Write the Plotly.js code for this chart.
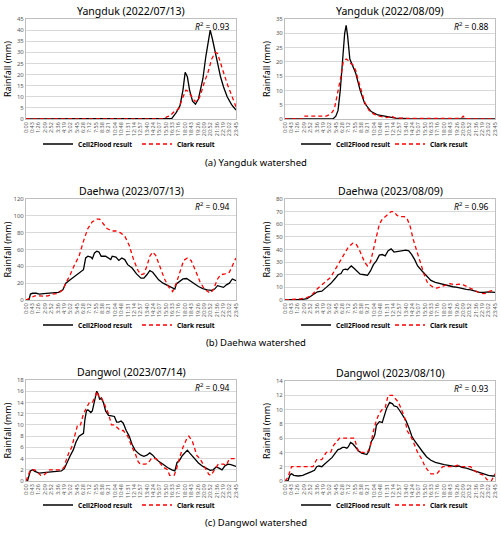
<!DOCTYPE html>
<html><head><meta charset="utf-8">
<script src="https://cdn.plot.ly/plotly-3.0.1.min.js"></script>
<style>html,body{margin:0;padding:0;background:#fff}#chart{width:501px;height:536px}</style>
</head><body><div id="chart"></div>
<script>
// ---------- tick labels ----------
const tickLabels = ["0:00","0:43","1:26","2:09","2:52","3:36","4:19","5:02","5:45","6:28","7:12","7:55","8:38","9:21","10:04","10:48","11:31","12:14","12:57","13:40","14:24","15:07","15:50","16:33","17:16","18:00","18:43","19:26","20:09","20:52","21:36","22:19","23:02","23:45"];

// ---------- (a) Yangduk 2022/07/13 ----------
const yj_cellTime = ["0:00","16:00","16:30","17:00","17:25","17:45","18:00","18:15","18:30","18:50","19:10","19:30","20:00","20:20","20:40","20:50","21:05","21:20","21:40","22:00","22:20","22:45","23:15","23:45"];
const yj_cellRain = [0,0,0.3,3,6,13,21,19,13,8,6.7,9,18,28,37,40,36,31,25,19,14.5,10,6.5,4];
const yj_clarkTime = ["0:00","15:40","15:55","16:20","16:40","17:15","17:40","18:05","18:20","18:45","19:05","19:25","19:45","20:10","20:35","21:00","21:25","21:40","22:00","22:25","22:50","23:20","23:45"];
const yj_clarkRain = [0,0,1,1.5,3,4.5,9,13,12.5,10,8,8,11,16.5,21,27,30,29.5,25,20,15,10,5.5];

// ---------- (a) Yangduk 2022/08/09 ----------
const ya_cellTime = ["0:00","5:25","5:45","6:00","6:15","6:30","6:45","6:55","7:05","7:20","7:40","8:00","8:15","8:30","9:00","9:45","10:30","11:30","12:30","14:00","23:45"];
const ya_cellRain = [0,0,1,3,10,22,30,32.8,29,21,18.3,16,13,10,5.5,2.6,1.4,0.8,0.3,0.1,0];
const ya_clarkTime = ["0:00","2:00","2:10","4:40","5:00","5:15","5:35","5:50","6:05","6:20","6:35","6:55","7:10","7:25","7:40","8:00","8:15","8:35","9:00","9:30","10:00","10:40","11:30","12:05","12:20","12:50","14:00","19:55","20:09","20:25","23:45"];
const ya_clarkRain = [0,0,1,1,1.5,2,3.5,7,11,15,20,21,20.5,19.5,19,17,14,10,6,3,1.8,1,0.5,1,0.5,0.3,0.2,0.2,1,0.1,0];

// ---------- (b) Daehwa 2023/07/13 ----------
const dj_cellTime = ["0:00","0:20","0:30","0:45","1:10","1:30","2:00","3:00","3:40","4:10","4:30","5:00","5:30","6:00","6:30","6:45","7:00","7:20","7:30","7:45","8:00","8:15","8:30","9:00","9:20","9:35","9:45","10:10","10:30","10:50","11:10","11:30","12:00","12:30","13:00","13:20","13:40","14:00","14:20","14:40","15:00","15:30","16:00","16:30","16:50","17:00","17:20","17:45","18:10","18:30","19:00","19:30","20:00","20:30","21:00","21:20","21:40","22:00","22:20","22:40","23:00","23:20","23:45"];
const dj_cellRain = [0,0,7,8,8,7,7.5,8,9,12,20,24,28,32,36,50,52,51,49,56,58,57,52,52,50,48,52,51,47,50,48,42,38,31,26,26,30,35,33,28,24,20,17,14,13,19,22,25,25.5,23,19,16,13.5,12,11.5,13,17,16,15,18,20,25,23];
const dj_clarkTime = ["0:00","0:30","1:00","1:30","2:00","2:30","3:00","3:40","4:10","4:30","5:00","5:30","6:00","6:30","7:00","7:30","8:00","8:20","8:45","9:10","9:40","10:10","10:40","11:10","11:40","12:10","12:40","13:00","13:20","13:40","14:00","14:20","14:40","15:10","15:40","16:10","16:35","17:00","17:30","17:50","18:15","18:40","19:10","19:40","20:10","20:50","21:10","21:40","22:00","22:30","23:00","23:20","23:45"];
const dj_clarkRain = [0,3,5,5,4.5,5,7,8,12,20,30,42,52,70,85,93,96,96,90,85,82,82,80,76,65,48,35,30,31,40,52,57,53,40,25,15,10,20,35,47,50,47,35,22,13,8,12,25,30,31,33,40,50];

// ---------- (b) Daehwa 2023/08/09 ----------
const da_cellTime = ["0:00","1:00","1:30","2:00","2:30","3:00","3:20","3:40","4:10","4:40","5:10","5:40","6:00","6:20","6:35","6:50","7:05","7:20","7:30","7:50","8:10","8:30","9:00","9:20","9:40","10:00","10:20","10:40","11:00","11:20","11:40","12:00","12:20","12:40","13:00","13:20","13:40","14:00","14:20","14:40","15:00","15:30","16:00","16:30","17:00","17:30","18:00","18:30","19:00","19:30","20:00","20:30","21:00","21:30","22:00","22:30","23:00","23:45"];
const da_cellRain = [0,0,0.3,0.5,1,3,5,6.5,7,10,13,17,20,21,24,24.5,24,26,27,25,23,20.5,20,19.5,23,28,31,35.5,36,35,39,40.5,38,38.5,38.5,39,39.5,39,36,32,27,23,19,15.5,14,13,12.5,11.5,10.5,10,9,8.5,8,7,6,6,6.5,6];
const da_clarkTime = ["0:00","1:20","1:50","2:20","2:50","3:10","3:40","4:10","4:40","5:10","5:40","6:10","6:40","7:10","7:40","8:00","8:20","8:40","9:00","9:20","9:40","10:00","10:20","10:40","11:00","11:30","12:00","12:20","12:40","13:00","13:30","13:50","14:10","14:30","14:50","15:10","15:30","15:50","16:10","16:40","17:10","17:40","18:10","18:40","19:10","19:40","20:10","20:40","21:00","21:30","22:00","22:30","22:50","23:10","23:45"];
const da_clarkRain = [0,0.3,1,1.5,3,5,9,12,15,18,24,30,37,42,45,44.5,41,35,30,27,30,40,50,60,64,67,70,70,67,66,66,64,58,48,40,32,25,18,13,10.5,9.5,10.5,12,13,12,12.5,12,10.5,9,7.5,5.5,5,5.5,7,8];

// ---------- (c) Dangwol 2023/07/14 ----------
const gj_cellTime = ["0:00","0:10","0:30","0:45","1:00","1:30","2:00","2:30","3:00","3:30","4:00","4:20","4:40","5:00","5:20","5:40","6:00","6:15","6:30","6:40","6:50","7:00","7:20","7:30","7:45","8:00","8:10","8:20","8:30","8:45","9:00","9:20","9:40","10:00","10:15","10:30","10:45","11:00","11:20","11:40","12:00","12:20","12:40","13:00","13:20","13:40","14:00","14:20","14:40","15:00","15:30","16:00","16:30","16:50","17:05","17:20","17:40","18:00","18:15","18:30","19:00","19:30","20:00","20:30","20:50","21:10","21:30","21:50","22:10","22:30","22:50","23:10","23:30","23:45"];
const gj_cellRain = [0,0,1.8,2,1.7,1.4,1.5,1.6,1.6,1.7,1.8,2.2,3.5,4.5,5.5,7,8,8.3,8.5,11,12.5,12.7,12.2,12.5,14.5,16,15.5,14.5,14.8,14,12.5,11.7,11.6,11.5,10.5,10.5,10.7,10.3,9,8,6.5,5.5,5,4.6,4.4,4.6,5,4.6,4,3.5,3,2.4,2,1.8,3.3,3.6,4.5,5,5.5,5,4,3.2,2.6,2.1,1.9,2,2.5,2.3,2,2.7,3,2.9,2.8,2.6];
const gj_clarkTime = ["0:00","0:20","0:30","1:00","1:20","1:40","2:00","2:20","2:40","4:00","4:20","4:30","4:50","5:10","5:30","5:50","6:10","6:30","6:50","7:10","7:30","7:50","8:00","8:15","8:30","8:45","9:00","9:20","9:40","10:00","10:20","10:40","11:00","11:30","12:00","12:20","12:40","12:55","13:30","13:50","14:10","14:40","15:00","15:30","16:00","16:15","16:45","17:00","17:20","17:45","18:10","18:25","18:50","19:20","19:40","20:00","20:20","20:40","20:55","21:20","21:45","22:20","22:40","23:00","23:20","23:45"];
const gj_clarkRain = [0,1.5,2,2,1.5,1,1,1.5,2,2,2.5,3.5,5,6,8,10,10,12,13,14,14,15,16,15,15,14,13,12,10,10,9.5,9,9,8,6,5,3.5,3,3,3.2,4,4,3.5,2.5,2,1,1,2,4,6,7.5,8,7,4.5,4,3,2,1.2,1,2,3,3,2.8,4,4,4];

// ---------- (c) Dangwol 2023/08/10 ----------
const ga_cellTime = ["0:00","0:20","0:35","0:45","1:00","1:30","2:00","2:30","3:00","3:20","3:35","3:50","4:10","4:20","4:50","5:20","5:45","6:00","6:15","6:30","6:45","7:00","7:10","7:25","7:40","8:00","8:20","8:40","9:00","9:15","9:30","9:45","10:00","10:10","10:20","10:40","11:00","11:10","11:30","11:50","12:10","12:20","12:40","13:00","13:20","13:40","14:00","14:20","14:40","15:00","15:30","16:00","16:30","17:00","17:30","18:00","18:30","19:00","19:20","19:40","20:00","20:30","21:00","21:30","22:00","22:30","23:00","23:30","23:45"];
const ga_cellRain = [0,0,0.9,1,0.8,0.7,0.8,1,1.3,1.5,2,2.1,2,2.2,2.7,3.3,4,4.4,4.5,4.7,4.7,4.6,4.8,5.4,5.2,4.7,4.2,3.9,3.8,3.7,4.2,5.5,6,6.5,7.8,8.3,8.2,9,10.2,11,10.8,10.5,10.4,9.8,9.2,8.5,7.5,6.3,5.6,5,4.2,3.4,2.9,2.6,2.4,2.3,2.2,2.1,2,2.1,1.9,1.8,1.6,1.3,1.1,1,0.8,0.7,0.7];
const ga_clarkTime = ["0:00","0:20","0:35","0:45","3:10","3:25","3:35","4:10","4:25","4:40","5:10","5:30","5:50","6:10","7:50","8:05","8:20","9:20","9:40","10:00","10:20","10:40","11:00","11:20","11:40","12:10","12:30","12:50","13:10","13:30","13:50","14:20","14:40","15:00","15:30","15:50","16:10","16:30","17:10","17:30","17:50","19:00","19:30","20:00","21:00","21:20","21:40","22:00","22:30","22:50","23:20","23:45"];
const ga_clarkRain = [0,0.5,1.5,2,2,2.5,3,3,3.5,4,4,5,5.5,6,6,5,4,4,5,7,8.5,9.5,10,10.3,12,12,11.5,11,10,9,7,6,5,4,3,2,1.5,1,1,1.5,2,2,2.2,2,2,1.5,1.2,1,0.8,0.2,0,1];

// ---------- layout helpers ----------
const W = 501, H = 536;
const FONT = "Noto Sans, Open Sans, sans-serif";
function toMin(s){ const p = s.split(":"); return Number(p[0])*60 + Number(p[1]); }
const tickVals = tickLabels.map(toMin);

const panels = [
  {title:"Yangduk (2022/07/13)", r2:"0.93", ymax:45, dtick:5,  box:[26,236,19,119], cell:[yj_cellTime,yj_cellRain], clark:[yj_clarkTime,yj_clarkRain], legY:144, legX:[38,137]},
  {title:"Yangduk (2022/08/09)", r2:"0.88", ymax:35, dtick:5,  box:[285,495,19,119], cell:[ya_cellTime,ya_cellRain], clark:[ya_clarkTime,ya_clarkRain], legY:144, legX:[296,390]},
  {title:"Daehwa (2023/07/13)",  r2:"0.94", ymax:120, dtick:20, box:[26,236,199,300], cell:[dj_cellTime,dj_cellRain], clark:[dj_clarkTime,dj_clarkRain], legY:325, legX:[38,137]},
  {title:"Daehwa (2023/08/09)",  r2:"0.96", ymax:80, dtick:10, box:[285,495,199,300], cell:[da_cellTime,da_cellRain], clark:[da_clarkTime,da_clarkRain], legY:325, legX:[296,390]},
  {title:"Dangwol (2023/07/14)", r2:"0.94", ymax:18, dtick:2,  box:[26,236,380,481], cell:[gj_cellTime,gj_cellRain], clark:[gj_clarkTime,gj_clarkRain], legY:505, legX:[38,137]},
  {title:"Dangwol (2023/08/10)", r2:"0.93", ymax:14, dtick:2,  box:[285,495,381,481], cell:[ga_cellTime,ga_cellRain], clark:[ga_clarkTime,ga_clarkRain], legY:505, legX:[296,390]}
];
const captions = [["(a) Yangduk watershed",162],["(b) Daehwa watershed",342],["(c) Dangwol watershed",522]];

const traces = [];
const layout = {
  width: W, height: H,
  margin: {l:0, r:0, t:0, b:0},
  paper_bgcolor: "#ffffff", plot_bgcolor: "#ffffff",
  font: {family: FONT, color: "#000"},
  annotations: [], showlegend: true
};

panels.forEach((p, i) => {
  const n = i + 1;
  const sx = n === 1 ? "" : String(n);
  const [x0, x1, y0, y1] = p.box;
  layout["xaxis" + sx] = {
    domain: [x0 / W, x1 / W], anchor: "y" + sx,
    range: [0, tickVals[tickVals.length - 1]],
    tickmode: "array", tickvals: tickVals, ticktext: tickLabels,
    tickangle: -90, tickfont: {size: 5.5, color: "#595959", family: FONT},
    showgrid: false, zeroline: false,
    showline: true, linecolor: "#bfbfbf", linewidth: 1, mirror: true,
    ticks: "", fixedrange: true
  };
  layout["yaxis" + sx] = {
    domain: [1 - y1 / H, 1 - y0 / H], anchor: "x" + sx,
    range: [0, p.ymax], dtick: p.dtick, tick0: 0,
    tickfont: {size: 6, color: "#595959", family: FONT},
    showgrid: true, gridcolor: "#d9d9d9", gridwidth: 1, zeroline: false,
    showline: true, linecolor: "#bfbfbf", linewidth: 1, mirror: true,
    ticks: "", ticklen: 0, fixedrange: true
  };
  const l1 = "legend" + (2*n - 1 === 1 ? "" : String(2*n - 1));
  const l2 = "legend" + String(2*n);
  traces.push({
    x: p.cell[0].map(toMin), y: p.cell[1], xaxis: "x" + sx, yaxis: "y" + sx,
    type: "scatter", mode: "lines", name: "Cell2Flood result", legend: l1,
    line: {color: "#000000", width: 1.3}, hoverinfo: "skip"
  });
  traces.push({
    x: p.clark[0].map(toMin), y: p.clark[1], xaxis: "x" + sx, yaxis: "y" + sx,
    type: "scatter", mode: "lines", name: "Clark result", legend: l2,
    line: {color: "#ff0000", width: 1.3, dash: "4px,3px"}, hoverinfo: "skip"
  });
  [[l1, p.legX[0]], [l2, p.legX[1]]].forEach(([key, lx]) => {
    layout[key] = {
      x: lx / W, y: 1 - p.legY / H, xanchor: "left", yanchor: "middle",
      orientation: "h", bgcolor: "rgba(0,0,0,0)", borderwidth: 0,
      font: {size: 6.5, family: FONT, color: "#000", weight: "bold"},
      tracegroupgap: 0, itemclick: false, itemdoubleclick: false
    };
  });
  // panel title
  layout.annotations.push({
    xref: "paper", yref: "paper", x: ((x0 + x1) / 2) / W, y: 1 - (p.box[2] - 8) / H,
    text: p.title, showarrow: false, xanchor: "center", yanchor: "middle",
    font: {size: 10.5, family: FONT, color: "#000"}
  });
  // y-axis title
  layout.annotations.push({
    xref: "paper", yref: "paper", x: (x0 - 19) / W, y: 1 - ((y0 + y1) / 2) / H,
    text: "Rainfall (mm)", showarrow: false, textangle: -90,
    xanchor: "center", yanchor: "middle",
    font: {size: 9, family: FONT, color: "#000"}
  });
  // R²
  layout.annotations.push({
    xref: "paper", yref: "paper", x: (x1 - 4) / W, y: 1 - (y0 + 7) / H,
    text: "<i>R</i><sup>2</sup> = " + p.r2, showarrow: false,
    xanchor: "right", yanchor: "middle",
    font: {size: 8.5, family: FONT, color: "#000"}
  });
});

captions.forEach(([t, yy]) => {
  layout.annotations.push({
    xref: "paper", yref: "paper", x: 256 / W, y: 1 - yy / H,
    text: t, showarrow: false, xanchor: "center", yanchor: "middle",
    font: {size: 9.5, family: FONT, color: "#000"}
  });
});

Plotly.newPlot("chart", traces, layout, {staticPlot: true, displayModeBar: false});
</script>
</body></html>
